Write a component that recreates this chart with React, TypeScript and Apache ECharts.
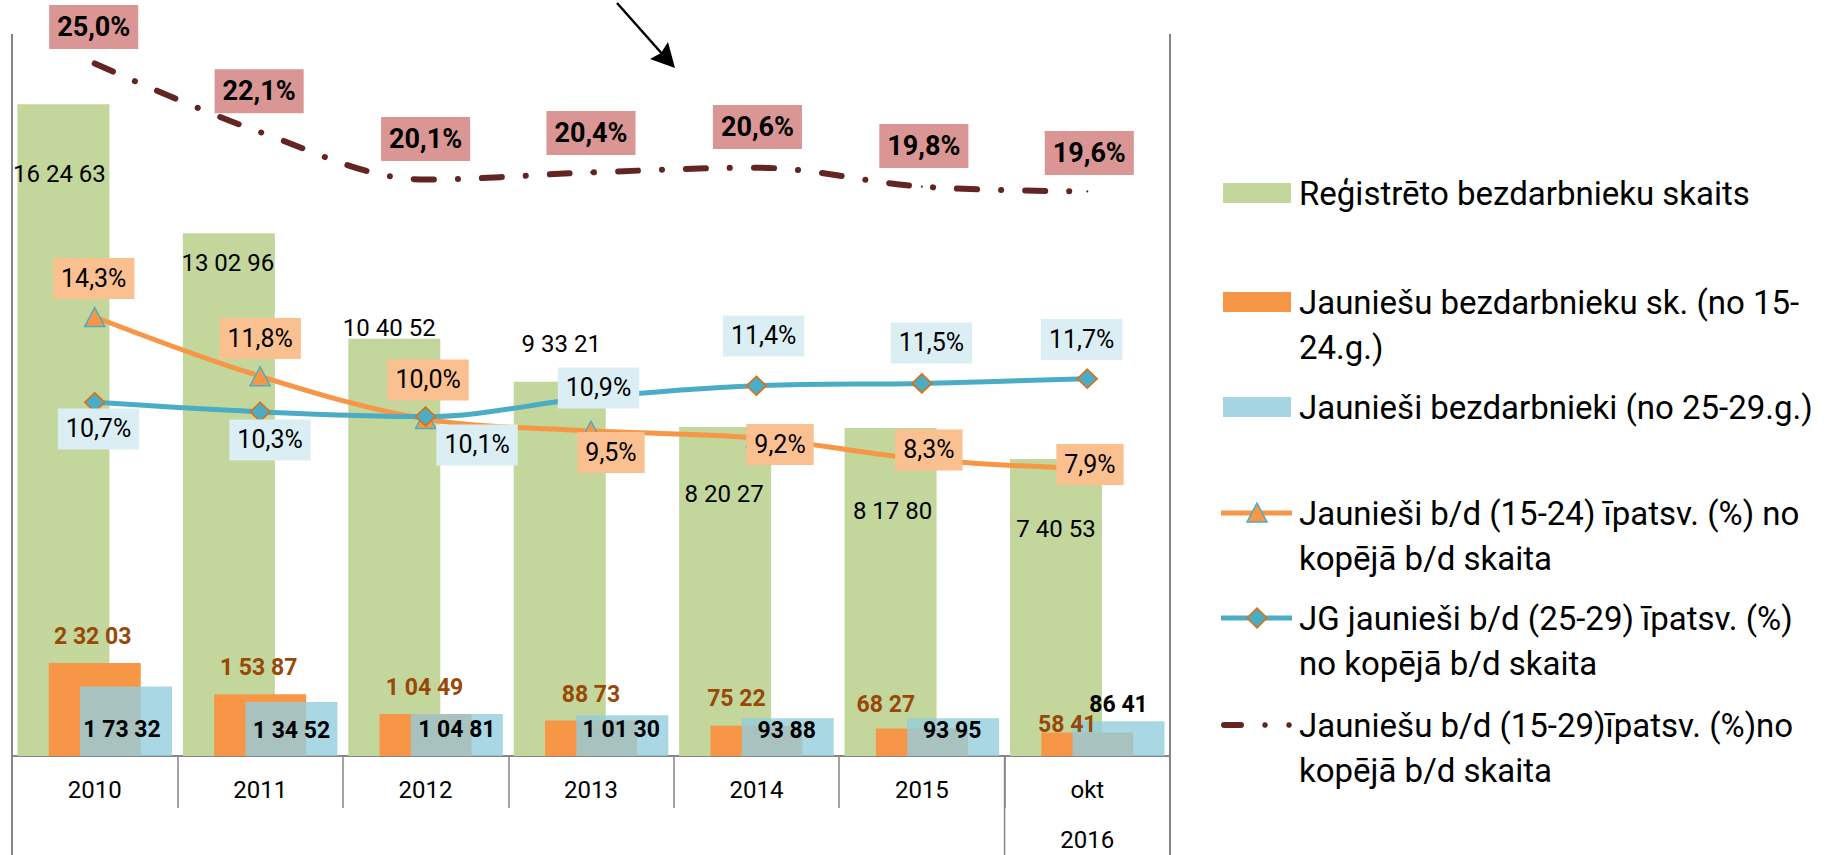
import React, { useEffect, useRef } from "react";
import * as echarts from "echarts";

// ---------- data ----------
const categories = ["2010", "2011", "2012", "2013", "2014", "2015", "okt\n2016"];
const registered = [162463, 130296, 104052, 93321, 82027, 81780, 74053];
const youth1524 = [23203, 15387, 10449, 8873, 7522, 6827, 5841];
const youth2529 = [17332, 13452, 10481, 10130, 9388, 9395, 8641];
const share1524 = [14.3, 11.8, 10.0, 9.5, 9.2, 8.3, 7.9];
const share2529 = [10.7, 10.3, 10.1, 10.9, 11.4, 11.5, 11.7];
const share1529 = [25.0, 22.1, 20.1, 20.4, 20.6, 19.8, 19.6];

const seriesNames = [
  "Reģistrēto bezdarbnieku skaits",
  "Jauniešu bezdarbnieku sk. (no 15-24.g.)",
  "Jaunieši bezdarbnieki (no 25-29.g.)",
  "Jaunieši b/d (15-24) īpatsv. (%) no kopējā b/d skaita",
  "JG jaunieši b/d (25-29) īpatsv. (%) no kopējā b/d skaita",
  "Jauniešu b/d (15-29)īpatsv. (%)no kopējā b/d skaita",
];
const legendTexts = [
  "Reģistrēto bezdarbnieku skaits",
  "Jauniešu bezdarbnieku sk. (no 15-\n24.g.)",
  "Jaunieši bezdarbnieki (no 25-29.g.)",
  "Jaunieši b/d (15-24) īpatsv. (%) no\nkopējā b/d skaita",
  "JG jaunieši b/d (25-29) īpatsv. (%)\nno kopējā b/d skaita",
  "Jauniešu b/d (15-29)īpatsv. (%)no\nkopējā b/d skaita",
];

// ---------- styles / layout ----------
const FONT = "Roboto, 'DejaVu Sans', sans-serif";
const C_GREEN = "#c3d69b";
const C_ORANGE = "#f79646";
const C_BLUE_BAR = "rgba(147,205,221,0.8)";
const C_BLUE_LINE = "#4bacc6";
const C_MAROON = "#632523";
const C_AXIS = "#868686";

const GRID = { left: 12, top: 34, width: 1158, height: 722 };
const BAR_W = 92;

// label placement (dx from bar centre, dy from bar top)
const greenLabelPos = [[-4, 69.5], [-1, 30], [-5, -11], [1.5, -38], [-1, 67], [2, 83], [0, 70]];
const orangeLabelPos = [[-2, -26], [-1.5, -27], [-1, -27], [0, -25.5], [-20, -27], [-36, -24.6], [-20, -7.6]];
const blueLabelPos = [[-4, 43.5], [0, 28], [0, 16], [-1, 14.6], [-1, 11.7], [-1, 11.7], [0, -17.3]];
// label offsets from line points
const orangePctOff = [[-1, -38.6], [0, -37.8], [2.5, -39], [20, 21.6], [23.6, 6.6], [7, -9.3], [2.7, -4.3]];
const bluePctOff = [[3.8, 26.6], [9.9, 28.1], [51.5, 28.4], [7.5, -9.7], [7.2, -49.8], [9.6, -40.5], [-5.7, -39.2]];
const totalPctOff = [[-1, -36.5], [-1, -41], [0, -40.5], [0, -39.5], [1, -40.8], [2, -40.7], [2, -38.5]];

const pairs = (v: number) => {
  const s = String(Math.round(v));
  const out: string[] = [];
  for (let i = s.length; i > 0; i -= 2) out.unshift(s.slice(Math.max(0, i - 2), i));
  return out.join(" ");
};
const pct = (v: number) => v.toFixed(1).replace(".", ",") + "%";

function buildOption() {
  const barData = (vals: number[], pos: number[][]) =>
    vals.map((v, i) => ({
      value: v,
      label: { position: [BAR_W / 2 + pos[i][0], pos[i][1]] },
    }));
  const lineData = (vals: number[], off: number[][]) =>
    vals.map((v, i) => ({ value: v, label: { offset: off[i] } }));

  const baseY = GRID.top + GRID.height;
  const right = GRID.left + GRID.width;
  const catW = GRID.width / categories.length;
  const sepX = GRID.left + catW * (categories.length - 1);

  const legendY = [193, 302, 407, 513, 618, 725];
  const LX = 1221;
  const graphic: any[] = [
    // frame lines
    { type: "line", shape: { x1: GRID.left, y1: GRID.top, x2: GRID.left, y2: 855 }, style: { stroke: C_AXIS, lineWidth: 2 }, z: 10 },
    { type: "line", shape: { x1: right, y1: GRID.top, x2: right, y2: 855 }, style: { stroke: C_AXIS, lineWidth: 2 }, z: 10 },
    { type: "line", shape: { x1: sepX, y1: baseY, x2: sepX, y2: 855 }, style: { stroke: C_AXIS, lineWidth: 1.5 }, z: 10 },
    // arrow
    { type: "line", shape: { x1: 617, y1: 3, x2: 664, y2: 56 }, style: { stroke: "#000", lineWidth: 2.5 }, z: 10 },
    { type: "polygon", shape: { points: [[675, 68], [650, 59], [661, 53], [668, 42]] }, style: { fill: "#000" }, z: 10 },
  ];
  // legend swatches
  [0, 1, 2].forEach((i) => {
    graphic.push({
      type: "rect",
      shape: { x: LX + 2, y: legendY[i] - 10, width: 68, height: 20 },
      style: { fill: i === 0 ? C_GREEN : i === 1 ? C_ORANGE : "#a5d5e2" },
    });
  });
  // line swatches
  const c3 = legendY[3], c4 = legendY[4], c5 = legendY[5];
  graphic.push(
    { type: "line", shape: { x1: LX, y1: c3, x2: LX + 71, y2: c3 }, style: { stroke: C_ORANGE, lineWidth: 5 } },
    { type: "polygon", shape: { points: [[LX + 36, c3 - 10], [LX + 46, c3 + 9], [LX + 26, c3 + 9]] }, style: { fill: C_ORANGE, stroke: C_BLUE_LINE, lineWidth: 1.5 } },
    { type: "line", shape: { x1: LX, y1: c4, x2: LX + 71, y2: c4 }, style: { stroke: C_BLUE_LINE, lineWidth: 5 } },
    { type: "polygon", shape: { points: [[LX + 36, c4 - 10], [LX + 46, c4], [LX + 36, c4 + 10], [LX + 26, c4]] }, style: { fill: C_BLUE_LINE, stroke: "#e46c0a", lineWidth: 1.5 } },
    { type: "line", shape: { x1: LX + 3, y1: c5, x2: LX + 20, y2: c5 }, style: { stroke: C_MAROON, lineWidth: 6, lineCap: "round" } },
    { type: "circle", shape: { cx: LX + 44, cy: c5, r: 2.8 }, style: { fill: C_MAROON } },
    { type: "circle", shape: { cx: LX + 68, cy: c5, r: 2.8 }, style: { fill: C_MAROON } }
  );
  legendTexts.forEach((t, i) => {
    graphic.push({
      type: "text",
      x: 1299,
      y: legendY[i] - 22.5,
      style: {
        text: t,
        fill: "#000",
        fontSize: 33,
        fontFamily: FONT,
        lineHeight: 45,
        verticalAlign: "top",
        align: "left",
      },
    });
  });

  return {
    animation: false,
    backgroundColor: "#ffffff",
    textStyle: { fontFamily: FONT },
    grid: {
      left: GRID.left,
      top: GRID.top,
      width: GRID.width,
      height: GRID.height,
      containLabel: false,
      outerBoundsMode: "none",
    },
    xAxis: {
      type: "category",
      data: categories,
      boundaryGap: true,
      axisLine: { show: true, lineStyle: { color: C_AXIS, width: 2 } },
      axisTick: { show: true, interval: 0, length: 52, lineStyle: { color: C_AXIS, width: 1.5 } },
      axisLabel: { interval: 0, fontSize: 24, color: "#000", lineHeight: 50, margin: 9, fontFamily: FONT },
    },
    yAxis: [
      { type: "value", min: 0, max: 180000, show: false },
      { type: "value", min: -4.22, max: 26.24, show: false },
    ],
    series: [
      {
        name: seriesNames[0],
        type: "bar",
        barWidth: BAR_W,
        barGap: "-66%",
        itemStyle: { color: C_GREEN },
        label: {
          show: true,
          formatter: (p: any) => pairs(p.value),
          fontSize: 24,
          color: "#000",
          align: "center",
          verticalAlign: "middle",
          fontFamily: FONT,
        },
        data: barData(registered, greenLabelPos),
        z: 2,
      },
      {
        name: seriesNames[1],
        type: "bar",
        barWidth: BAR_W,
        barGap: "-66%",
        itemStyle: { color: C_ORANGE },
        label: {
          show: true,
          formatter: (p: any) => pairs(p.value),
          fontSize: 23,
          fontWeight: "bold",
          color: "#984807",
          align: "center",
          verticalAlign: "middle",
          fontFamily: FONT,
        },
        data: barData(youth1524, orangeLabelPos),
        z: 2,
      },
      {
        name: seriesNames[2],
        type: "bar",
        barWidth: BAR_W,
        barGap: "-66%",
        itemStyle: { color: C_BLUE_BAR },
        label: {
          show: true,
          formatter: (p: any) => pairs(p.value),
          fontSize: 23,
          fontWeight: "bold",
          color: "#000",
          align: "center",
          verticalAlign: "middle",
          fontFamily: FONT,
        },
        data: barData(youth2529, blueLabelPos),
        z: 2,
      },
      {
        name: seriesNames[3],
        type: "line",
        yAxisIndex: 1,
        smooth: 0.35,
        symbol: "triangle",
        symbolSize: [20, 19],
        lineStyle: { color: C_ORANGE, width: 5 },
        itemStyle: { color: C_ORANGE, borderColor: C_BLUE_LINE, borderWidth: 1.5 },
        label: {
          show: true,
          position: "inside",
          formatter: (p: any) => pct(p.value),
          fontSize: 25,
          lineHeight: 31,
          color: "#000",
          backgroundColor: "#fac090",
          padding: [5, 8],
          fontFamily: FONT,
        },
        data: lineData(share1524, orangePctOff),
        z: 3,
      },
      {
        name: seriesNames[4],
        type: "line",
        yAxisIndex: 1,
        smooth: 0.35,
        symbol: "diamond",
        symbolSize: [20, 19],
        lineStyle: { color: C_BLUE_LINE, width: 5 },
        itemStyle: { color: C_BLUE_LINE, borderColor: "#e46c0a", borderWidth: 1.5 },
        label: {
          show: true,
          position: "inside",
          formatter: (p: any) => pct(p.value),
          fontSize: 25,
          lineHeight: 31,
          color: "#000",
          backgroundColor: "#dbeef4",
          padding: [5, 8],
          fontFamily: FONT,
        },
        data: lineData(share2529, bluePctOff),
        z: 4,
      },
      {
        name: seriesNames[5],
        type: "line",
        yAxisIndex: 1,
        smooth: 0.35,
        symbol: "circle",
        symbolSize: 2,
        lineStyle: { color: C_MAROON, width: 6, type: [20, 24, 0.1, 24], cap: "round" },
        itemStyle: { color: C_MAROON },
        label: {
          show: true,
          position: "inside",
          formatter: (p: any) => pct(p.value),
          fontSize: 27,
          fontWeight: "bold",
          lineHeight: 34,
          color: "#000",
          backgroundColor: "#d99694",
          padding: [5, 8],
          fontFamily: FONT,
        },
        data: lineData(share1529, totalPctOff),
        z: 5,
      },
    ],
    graphic,
  };
}

export default function App() {
  const ref = useRef<HTMLDivElement>(null);
  useEffect(() => {
    document.body.style.margin = "0";
    if (!ref.current) return;
    const chart = echarts.init(ref.current, undefined, { renderer: "svg" });
    chart.setOption(buildOption() as any);
    return () => chart.dispose();
  }, []);
  return (
    <div
      ref={ref}
      style={{ position: "absolute", left: 0, top: 0, width: 1835, height: 855, background: "#fff" }}
    />
  );
}
